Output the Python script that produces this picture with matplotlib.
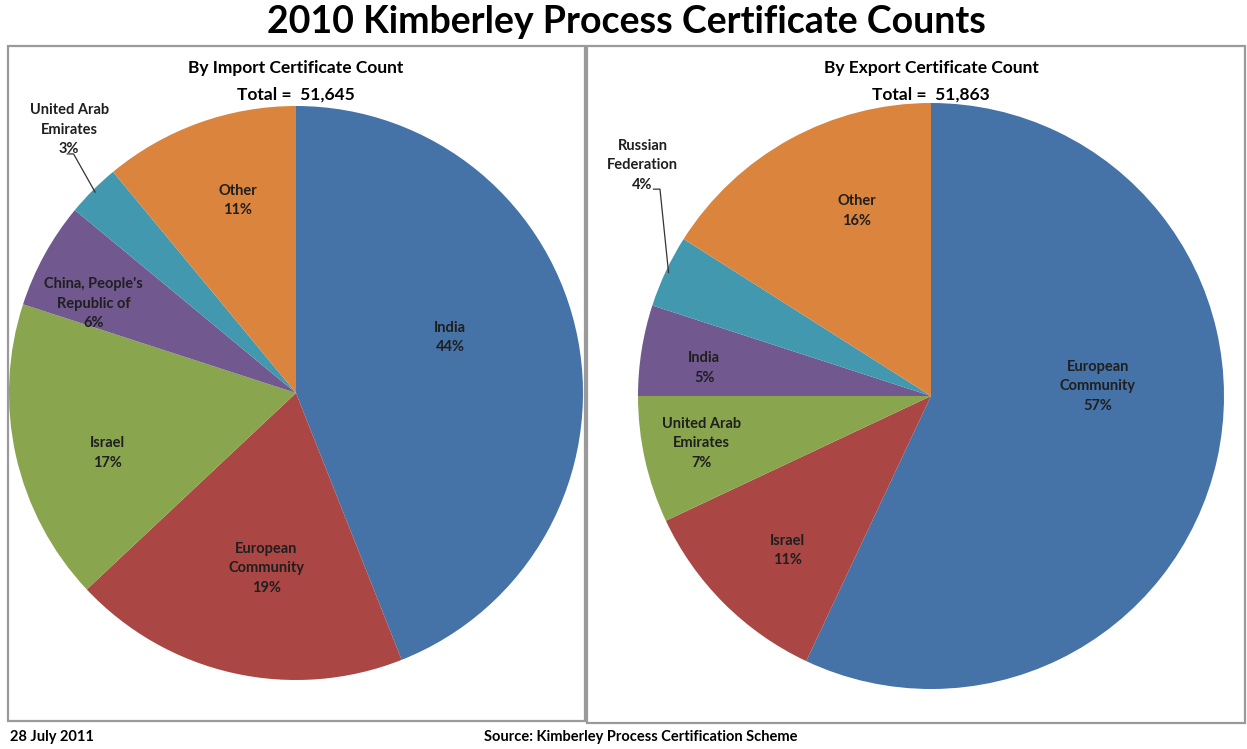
import numpy as np
import matplotlib.pyplot as plt
from matplotlib.patches import Rectangle

# ---- data ----
imp_labels = ["India", "European\nCommunity", "Israel", "China, People's\nRepublic of",
              "United Arab\nEmirates", "Other"]
imp_pct = [44, 19, 17, 6, 3, 11]
imp_total = "51,645"

exp_labels = ["European\nCommunity", "Israel", "United Arab\nEmirates", "India",
              "Russian\nFederation", "Other"]
exp_pct = [57, 11, 7, 5, 4, 16]
exp_total = "51,863"

colors = ["#4572A7", "#AA4643", "#89A54E", "#71588F", "#4198AF", "#DB843D"]

plt.rcParams['font.family'] = ['Lato', 'DejaVu Sans']

W, H = 1247, 749
fig = plt.figure(figsize=(W / 100, H / 100), dpi=100)


def px_rect(x0, y0, x1, y1):
    # pixel box (top-left origin) -> figure fraction rect
    return [x0 / W, 1 - y1 / H, (x1 - x0) / W, (y1 - y0) / H]


# panel borders
for (x0, y0, x1, y1) in [(8, 46, 585, 721), (587, 46, 1245, 723)]:
    fig.patches.append(Rectangle((x0 / W, 1 - y1 / H), (x1 - x0) / W, (y1 - y0) / H,
                                 transform=fig.transFigure, fill=False,
                                 edgecolor="#9a9a9a", linewidth=1.6))

lab_kw = dict(ha="center", va="center", fontsize=10.5, fontweight="bold",
              color="#1f1f1f", linespacing=1.5)


def draw_pie(cx, cy, r, labels, pct, dists, shifts, outside, title, total):
    ax = fig.add_axes(px_rect(cx - r, cy - r, cx + r, cy + r))
    wedges, _ = ax.pie(pct, colors=colors, startangle=90, counterclock=False,
                       radius=1, wedgeprops=dict(linewidth=0))
    ax.set_xlim(-1, 1)
    ax.set_ylim(-1, 1)
    ax.set_aspect("equal")
    ax.axis("off")
    for i, w in enumerate(wedges):
        mid = np.deg2rad((w.theta1 + w.theta2) / 2)
        txt = "%s\n%d%%" % (labels[i], pct[i])
        if dists[i] is None:
            # small slice: label outside with a leader line
            (lx, ly), (kx, ky) = outside
            sx, sy = 0.99 * np.cos(mid), 0.99 * np.sin(mid)
            ax.plot([sx, kx, kx - 0.022], [sy, ky, ky], color="#333333", lw=0.9,
                    clip_on=False)
            ax.text(lx, ly, txt, clip_on=False, **lab_kw)
        else:
            a = mid + np.deg2rad(shifts[i])
            ax.text(dists[i] * np.cos(a), dists[i] * np.sin(a), txt, **lab_kw)
    fig.text(cx / W, 1 - 68 / H, title, ha="center", va="center",
             fontsize=12.5, fontweight="bold")
    fig.text(cx / W, 1 - 95 / H, "Total =  " + total, ha="center", va="center",
             fontsize=12.5, fontweight="bold")


draw_pie(296, 393, 287, imp_labels, imp_pct,
         [0.57, 0.62, 0.69, 0.77, None, 0.70], [9, 3, 5, 5, 0, -3],
         ((-0.79, 0.918), (-0.775, 0.833)),
         "By Import Certificate Count", imp_total)
draw_pie(931, 396, 293, exp_labels, exp_pct,
         [0.57, 0.72, 0.80, 0.78, None, 0.68], [16, 2, -1, 2, 0, -7],
         ((-0.985, 0.788), (-0.925, 0.706)),
         "By Export Certificate Count", exp_total)

fig.text(626 / W, 1 - 22 / H, "2010 Kimberley Process Certificate Counts",
         ha="center", va="center", fontsize=27, fontweight="bold")
fig.text(10 / W, 1 - 737 / H, "28 July 2011", ha="left", va="center",
         fontsize=10.5, fontweight="bold")
fig.text(641 / W, 1 - 737 / H, "Source: Kimberley Process Certification Scheme",
         ha="center", va="center", fontsize=10.5, fontweight="bold")

fig.savefig("out.png", dpi=100)
